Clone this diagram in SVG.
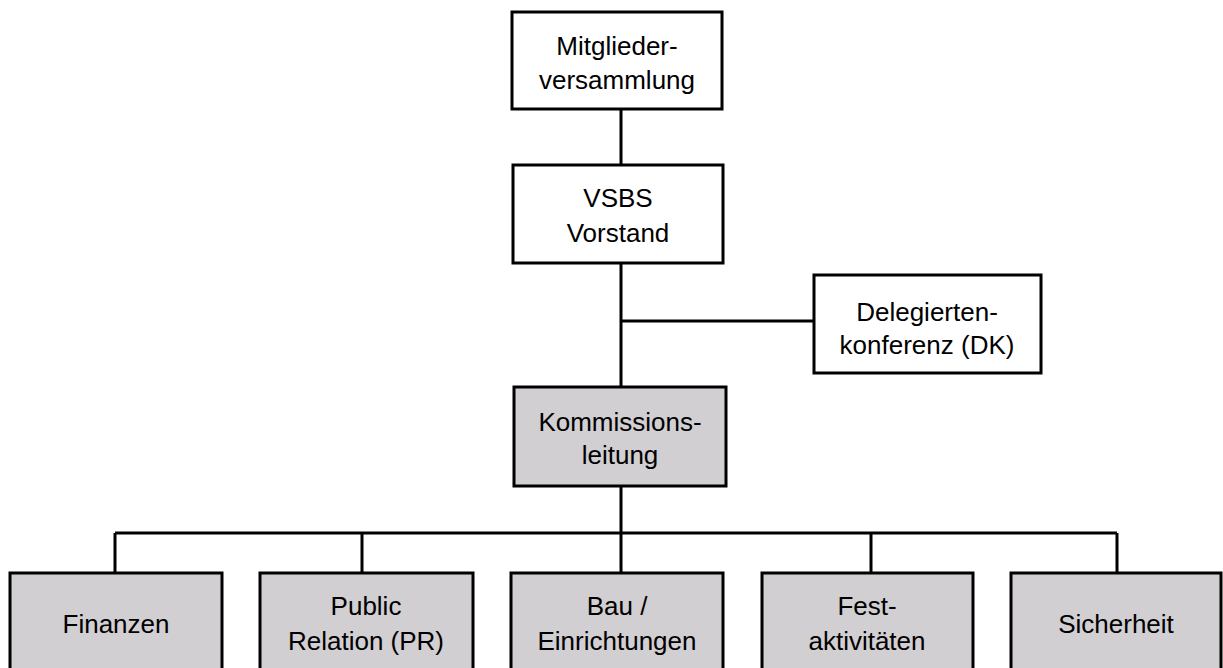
<svg xmlns="http://www.w3.org/2000/svg" width="1223" height="668" viewBox="0 0 1223 668">
<style>
.box{fill:#ffffff;stroke:#000000;stroke-width:3}
.grey{fill:#d1cfd1;stroke:#000000;stroke-width:3}
.t{font-family:"Liberation Sans",Arial,sans-serif;font-size:26px;fill:#000000;text-anchor:middle}
.c{stroke:#000000;stroke-width:3;fill:none}
</style>
<rect width="1223" height="668" fill="#ffffff"/>
<g id="connectors">
<line class="c" x1="621" y1="109" x2="621" y2="165"/>
<line class="c" x1="621" y1="263" x2="621" y2="387"/>
<line class="c" x1="621" y1="321" x2="814" y2="321"/>
<line class="c" x1="621" y1="486" x2="621" y2="533"/>
<line class="c" x1="115" y1="533" x2="1117" y2="533"/>
<line class="c" x1="115" y1="533" x2="115" y2="573"/>
<line class="c" x1="362" y1="533" x2="362" y2="573"/>
<line class="c" x1="621" y1="533" x2="621" y2="573"/>
<line class="c" x1="871" y1="533" x2="871" y2="573"/>
<line class="c" x1="1117" y1="533" x2="1117" y2="573"/>
</g>
<g id="mitgliederversammlung">
<rect class="box" x="512" y="12" width="210" height="97"/>
<text class="t" x="617" y="55">Mitglieder-</text>
<text class="t" x="617" y="89">versammlung</text>
</g>
<g id="vorstand">
<rect class="box" x="513" y="165" width="210" height="98"/>
<text class="t" x="618" y="207">VSBS</text>
<text class="t" x="618" y="242">Vorstand</text>
</g>
<g id="delegiertenkonferenz">
<rect class="box" x="814" y="275" width="227" height="98"/>
<text class="t" x="927" y="321">Delegierten-</text>
<text class="t" x="927" y="354">konferenz (DK)</text>
</g>
<g id="kommissionsleitung">
<rect class="grey" x="514" y="387" width="212" height="99"/>
<text class="t" x="620" y="431">Kommissions-</text>
<text class="t" x="620" y="464">leitung</text>
</g>
<g id="finanzen">
<rect class="grey" x="10" y="573" width="212" height="100"/>
<text class="t" x="116" y="633">Finanzen</text>
</g>
<g id="public-relation">
<rect class="grey" x="260" y="573" width="213" height="100"/>
<text class="t" x="366" y="615">Public</text>
<text class="t" x="366" y="650">Relation (PR)</text>
</g>
<g id="bau">
<rect class="grey" x="511" y="573" width="212" height="100"/>
<text class="t" x="617" y="615">Bau /</text>
<text class="t" x="617" y="650">Einrichtungen</text>
</g>
<g id="festaktivitaeten">
<rect class="grey" x="762" y="573" width="211" height="100"/>
<text class="t" x="867" y="615">Fest-</text>
<text class="t" x="867" y="650">aktivitäten</text>
</g>
<g id="sicherheit">
<rect class="grey" x="1011" y="573" width="210" height="100"/>
<text class="t" x="1116" y="633">Sicherheit</text>
</g>
</svg>
